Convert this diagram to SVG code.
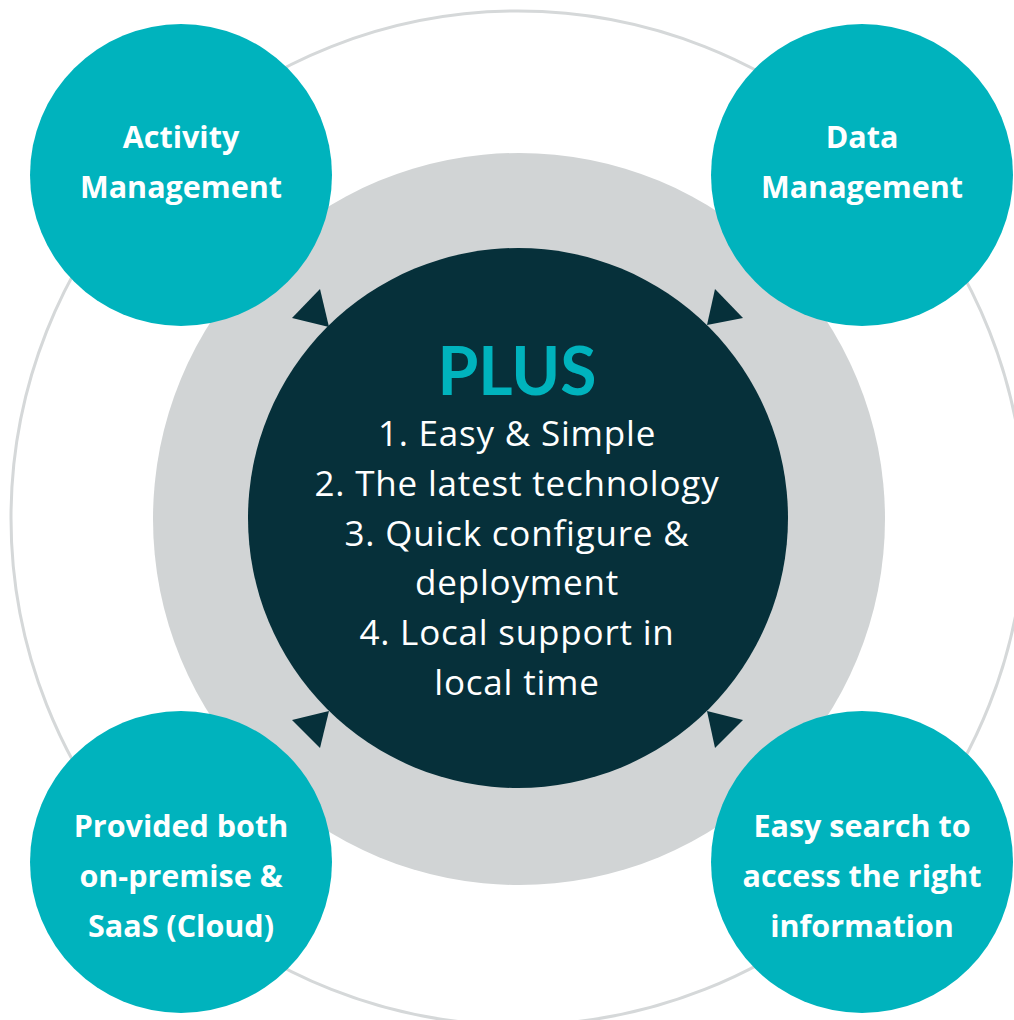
<svg xmlns="http://www.w3.org/2000/svg" width="1014" height="1020" viewBox="0 0 1014 1020">
<style>
.teal{fill:#00b3bd}
.lbl{font-family:"Open Sans","Liberation Sans",sans-serif;font-weight:700;font-size:30.5px;fill:#ffffff;text-anchor:middle}
.lst{font-family:"Open Sans","Liberation Sans",sans-serif;font-size:35px;letter-spacing:0.8px;fill:#ffffff;text-anchor:middle}
.arr{fill:#06303a}
</style>
<rect width="1014" height="1020" fill="#ffffff"/>
<circle cx="518" cy="518" r="507" fill="none" stroke="#d5d8d9" stroke-width="3"/>
<circle cx="519" cy="519" r="366" fill="#d1d4d5"/>
<g id="center">
<circle cx="518" cy="518" r="270" fill="#06303a"/>
<text x="517" y="395" font-family="Lato,'Open Sans',sans-serif" font-weight="700" font-size="66" fill="#00b3bd" text-anchor="middle">PLUS</text>
<text class="lst" x="517" y="446">1. Easy &amp; Simple</text>
<text class="lst" x="517" y="496">2. The latest technology</text>
<text class="lst" x="517" y="546">3. Quick configure &amp;</text>
<text class="lst" x="517" y="595">deployment</text>
<text class="lst" x="517" y="645">4. Local support in</text>
<text class="lst" x="517" y="695">local time</text>
</g>
<g id="activity">
<circle class="teal" cx="181" cy="175" r="151"/>
<text class="lbl" x="181" y="148">Activity</text>
<text class="lbl" x="181" y="198">Management</text>
</g>
<g id="data">
<circle class="teal" cx="862" cy="175" r="151"/>
<text class="lbl" x="862" y="148">Data</text>
<text class="lbl" x="862" y="198">Management</text>
</g>
<g id="provided">
<circle class="teal" cx="181" cy="862" r="151"/>
<text class="lbl" x="181" y="837">Provided both</text>
<text class="lbl" x="181" y="887">on-premise &amp;</text>
<text class="lbl" x="181" y="937">SaaS (Cloud)</text>
</g>
<g id="search">
<circle class="teal" cx="862" cy="862" r="151"/>
<text class="lbl" x="862" y="837">Easy search to</text>
<text class="lbl" x="862" y="887">access the right</text>
<text class="lbl" x="862" y="937">information</text>
</g>
<g id="connectors">
<polygon class="arr" points="320,289 292,318 329,327"/>
<polygon class="arr" points="715,289 743,318 707,325"/>
<polygon class="arr" points="292,720 320,748 329,711"/>
<polygon class="arr" points="743,720 715,748 707,711"/>
</g>
</svg>
